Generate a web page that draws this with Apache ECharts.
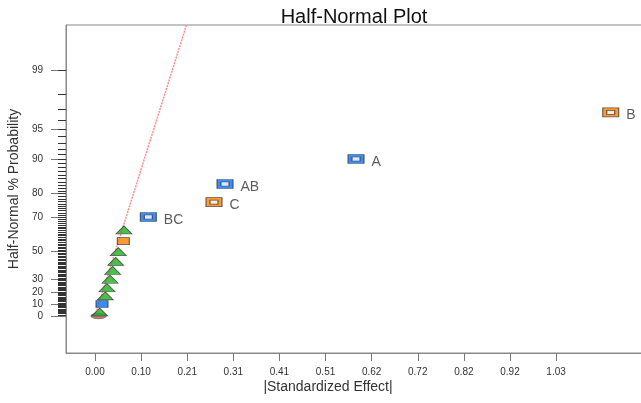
<!DOCTYPE html>
<html><head><meta charset="utf-8">
<script src="https://cdn.jsdelivr.net/npm/echarts@6/dist/echarts.min.js"></script>
<style>html,body{margin:0;padding:0;overflow:hidden;background:#fff}#c{width:708px;height:403px}</style>
</head><body><div id="c"></div>
<script>
// ---- data ----
const xTickValues = [0, 0.10275, 0.2055, 0.30825, 0.411, 0.51375, 0.6165, 0.71925, 0.822, 0.92475, 1.0275];
const xTickLabels = ['0.00','0.10','0.21','0.31','0.41','0.51','0.62','0.72','0.82','0.92','1.03'];
const yTickPct = [0, 10, 20, 30, 50, 70, 80, 90, 95, 99];
const yTickLabels = ['0','10','20','30','50','70','80','90','95','99'];

const errEffect = [0.0105, 0.0230, 0.0267, 0.0334, 0.0394, 0.0461, 0.0519, 0.0646];
const errPct    = [3.3, 16.7, 23.3, 30, 36.7, 43.3, 50, 63.3];
const posSmallEffect = [0.0156];
const posSmallPct    = [10];
const negSmallEffect = [0.0631];
const negSmallPct    = [56.7];
const zeroEffect = [0.008];
const zeroPct    = [0];
const posNames  = ['BC', 'AB', 'A'];
const posEffect = [0.1188, 0.2897, 0.5817];
const posPct    = [70, 83.3, 90];
const negNames  = ['C', 'B'];
const negEffect = [0.2652, 1.1493];
const negPct    = [76.7, 96.7];
const fitEffect = [0, 0.204];
const fitPct    = [0, 99.77];

// ---- half-normal probability scale ----
function invNorm(p){
  const a=[-3.969683028665376e+01,2.209460984245205e+02,-2.759285104469687e+02,1.383577518672690e+02,-3.066479806614716e+01,2.506628277459239e+00];
  const b=[-5.447609879822406e+01,1.615858368580409e+02,-1.556989798598866e+02,6.680131188771972e+01,-1.328068155288572e+01];
  const c=[-7.784894002430293e-03,-3.223964580411365e-01,-2.400758277161838e+00,-2.549671010466680e+00,4.374664141464968e+00,2.938163982698783e+00];
  const d=[7.784695709041462e-03,3.224671290700398e-01,2.445134137142996e+00,3.754408661907416e+00];
  const pl=0.02425, ph=1-pl; let q,r;
  if(p<pl){q=Math.sqrt(-2*Math.log(p));return (((((c[0]*q+c[1])*q+c[2])*q+c[3])*q+c[4])*q+c[5])/((((d[0]*q+d[1])*q+d[2])*q+d[3])*q+1);}
  if(p<=ph){q=p-0.5;r=q*q;return (((((a[0]*r+a[1])*r+a[2])*r+a[3])*r+a[4])*r+a[5])*q/(((((b[0]*r+b[1])*r+b[2])*r+b[3])*r+b[4])*r+1);}
  q=Math.sqrt(-2*Math.log(1-p));return -(((((c[0]*q+c[1])*q+c[2])*q+c[3])*q+c[4])*q+c[5])/((((d[0]*q+d[1])*q+d[2])*q+d[3])*q+1);
}
const hz = pct => invNorm(0.5 + pct / 200);
const pts = (xs, ps, names) => xs.map((x, i) => names ? {name: names[i], value: [x, hz(ps[i])]} : [x, hz(ps[i])]);

const majorZ = yTickPct.map(hz);
const minorZ = [];
for (let i = 1; i <= 99; i++) minorZ.push(hz(i));

const xLabel = v => { let k = 0, best = 1e9; xTickValues.forEach((t, i) => { const d = Math.abs(t - v); if (d < best) { best = d; k = i; } }); return xTickLabels[k]; };
const yLabel = v => { let k = 0, best = 1e9; majorZ.forEach((t, i) => { const d = Math.abs(t - v); if (d < best) { best = d; k = i; } }); return yTickLabels[k]; };

const FONT = 'Liberation Sans, Arial, sans-serif';
const BLUE = '#0d6ff0', ORANGE = '#ff8000', GREEN = '#1fae1f', EDGE = '#333';

const chart = echarts.init(document.getElementById('c'), null, {renderer: 'canvas'});
chart.setOption({
  animation: false,
  textStyle: {fontFamily: FONT},
  title: [
    {text: 'Half-Normal Plot', left: 'center', top: 2, textStyle: {fontSize: 20, fontWeight: 'normal', color: '#111', fontFamily: FONT}},
    {text: '|Standardized Effect|', left: 323, top: 375, textAlign: 'center', textStyle: {fontSize: 14, fontWeight: 'normal', color: '#333', fontFamily: FONT}}
  ],
  grid: {left: 66, top: 25, right: 0, bottom: 50, show: true, borderColor: '#888', borderWidth: 1, containLabel: false, outerBoundsMode: 'none'},
  xAxis: {
    type: 'value', min: -0.0646, max: 1.366,
    splitLine: {show: false},
    axisLine: {show: true, onZero: false, lineStyle: {color: '#888'}},
    axisTick: {show: true, customValues: xTickValues, length: 8, lineStyle: {color: '#777'}},
    axisLabel: {customValues: xTickValues, formatter: xLabel, margin: 14, fontSize: 10, color: '#333', fontFamily: FONT}
  },
  yAxis: [
    {
      type: 'value', min: -0.387, max: 3.047, position: 'left',
      name: 'Half-Normal % Probability', nameLocation: 'middle', nameGap: 44, nameRotate: 90,
      nameTextStyle: {fontSize: 14, color: '#333', fontFamily: FONT},
      splitLine: {show: false},
      axisLine: {show: true, onZero: false, lineStyle: {color: '#888'}},
      axisTick: {show: true, customValues: majorZ, length: 15, lineStyle: {color: '#777'}},
      axisLabel: {customValues: majorZ, formatter: yLabel, margin: 23, fontSize: 10, color: '#333', fontFamily: FONT}
    },
    {
      type: 'value', min: -0.387, max: 3.047, position: 'left', offset: 0,
      splitLine: {show: false},
      axisLine: {show: false, onZero: false},
      axisTick: {show: true, customValues: minorZ, length: 8, lineStyle: {color: '#333'}},
      axisLabel: {show: false}
    }
  ],
  series: [
    {type: 'line', data: pts(fitEffect, fitPct), symbol: 'none', silent: true, z: 1,
     lineStyle: {color: '#ff8c8c', width: 1.5, type: [2, 1]}},
    {type: 'scatter', data: pts(zeroEffect, zeroPct), symbol: 'circle', symbolSize: [15, 6], z: 2,
     itemStyle: {color: '#a8595a', borderColor: '#777', borderWidth: 0.8}},
    {type: 'scatter', data: pts(errEffect, errPct), symbol: 'triangle', symbolSize: [16, 8], z: 3,
     itemStyle: {color: GREEN, borderColor: EDGE, borderWidth: 0.8}},
    {type: 'scatter', data: pts(posSmallEffect, posSmallPct), symbol: 'rect', symbolSize: [12, 7], z: 4,
     itemStyle: {color: BLUE, borderColor: EDGE, borderWidth: 0.8}},
    {type: 'scatter', data: pts(negSmallEffect, negSmallPct), symbol: 'rect', symbolSize: [12, 7], z: 4,
     itemStyle: {color: ORANGE, borderColor: EDGE, borderWidth: 0.8}},
    {type: 'scatter', data: pts(posEffect, posPct, posNames), symbol: 'rect', symbolSize: [16, 9], z: 5,
     itemStyle: {color: BLUE, borderColor: EDGE, borderWidth: 0.8},
     label: {show: true, position: 'right', distance: 7, offset: [0, 3], formatter: '{b}', fontSize: 14, color: '#333', fontFamily: FONT}},
    {type: 'scatter', data: pts(posEffect, posPct), symbol: 'rect', symbolSize: [8, 4], z: 6, silent: true,
     itemStyle: {color: '#fff', borderColor: EDGE, borderWidth: 0.8}},
    {type: 'scatter', data: pts(negEffect, negPct, negNames), symbol: 'rect', symbolSize: [16, 9], z: 5,
     itemStyle: {color: ORANGE, borderColor: EDGE, borderWidth: 0.8},
     label: {show: true, position: 'right', distance: 7, offset: [0, 3], formatter: '{b}', fontSize: 14, color: '#333', fontFamily: FONT}},
    {type: 'scatter', data: pts(negEffect, negPct), symbol: 'rect', symbolSize: [8, 4], z: 6, silent: true,
     itemStyle: {color: '#fff', borderColor: EDGE, borderWidth: 0.8}}
  ]
});
</script></body></html>
